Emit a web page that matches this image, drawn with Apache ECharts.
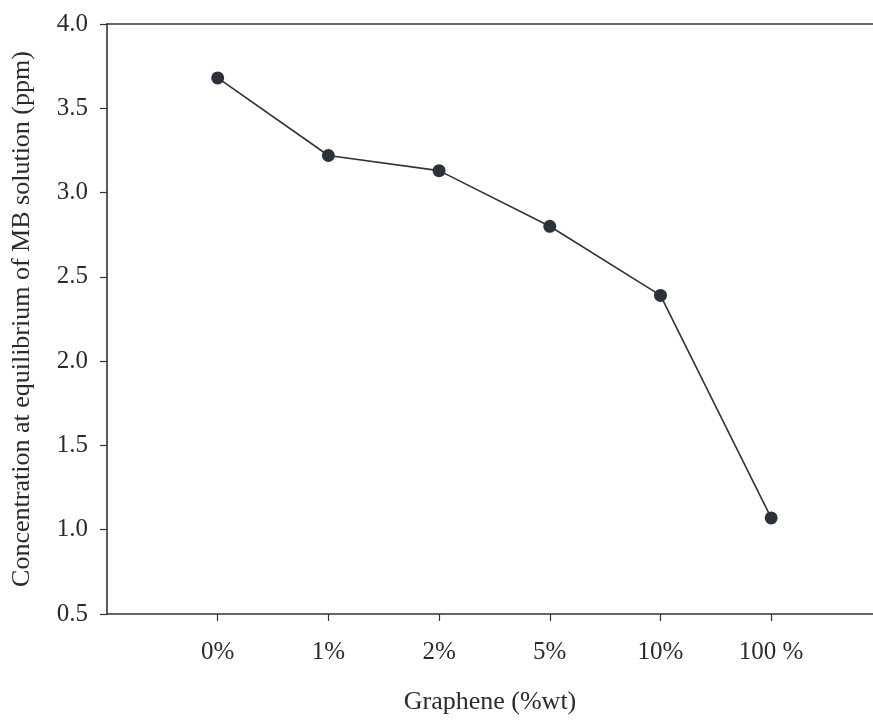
<!DOCTYPE html>
<html>
<head>
<meta charset="utf-8">
<script src="https://cdn.jsdelivr.net/npm/echarts@6/dist/echarts.min.js"></script>
<style>html,body{margin:0;padding:0;background:#fff}#c{width:873px;height:723px}</style>
</head>
<body>
<div id="c"></div>
<script>
const categories = ['0%', '1%', '2%', '5%', '10%', '100 %'];
const concentration = [3.68, 3.22, 3.13, 2.80, 2.39, 1.07];
const yTicks = [0.5, 1.0, 1.5, 2.0, 2.5, 3.0, 3.5, 4.0];
const xName = 'Graphene (%wt)';
const yName = 'Concentration at equilibrium of MB solution (ppm)';

const positions = categories.map((c, i) => i);
const font = 'Liberation Serif';
const textColor = '#2b2b2b';
const lineColor = '#2f3338';

const chart = echarts.init(document.getElementById('c'), null, {renderer: 'canvas'});
chart.setOption({
  animation: false,
  backgroundColor: '#fff',
  grid: {left: 107, top: 24, right: 0, bottom: 109, containLabel: false, outerBoundsMode: 'none'},
  xAxis: [{
    type: 'value',
    min: -1, max: 5.92, interval: 1,
    name: xName, nameLocation: 'middle', nameGap: 75,
    nameTextStyle: {fontFamily: font, fontSize: 26, color: textColor},
    axisLine: {show: true, onZero: false, lineStyle: {color: lineColor, width: 1.6}},
    axisTick: {show: true, length: 7, customValues: positions, lineStyle: {color: lineColor, width: 1.2}},
    axisLabel: {
      customValues: positions, margin: 26,
      fontFamily: font, fontSize: 25, color: textColor,
      formatter: v => categories[Math.round(v)] ?? ''
    },
    splitLine: {show: false}
  }, {
    type: 'value', position: 'top',
    min: -1, max: 5.92,
    axisLine: {show: true, onZero: false, lineStyle: {color: lineColor, width: 1.6}},
    axisTick: {show: false}, axisLabel: {show: false}, splitLine: {show: false}
  }],
  yAxis: {
    type: 'value',
    min: yTicks[0], max: yTicks[yTicks.length - 1], interval: 0.5,
    name: yName, nameLocation: 'middle', nameGap: 72, nameRotate: 90,
    nameTextStyle: {fontFamily: font, fontSize: 26, color: textColor},
    axisLine: {show: true, onZero: false, lineStyle: {color: lineColor, width: 1.6}},
    axisTick: {show: true, length: 7, lineStyle: {color: lineColor, width: 1.2}},
    axisLabel: {margin: 19, fontFamily: font, fontSize: 25, color: textColor,
      formatter: v => v.toFixed(1)},
    splitLine: {show: false}
  },
  series: [{
    type: 'line',
    xAxisIndex: 0,
    data: concentration.map((v, i) => [positions[i], v]),
    symbol: 'circle', symbolSize: 13,
    lineStyle: {color: lineColor, width: 1.6},
    itemStyle: {color: '#2c323b'}
  }]
});
</script>
</body>
</html>
